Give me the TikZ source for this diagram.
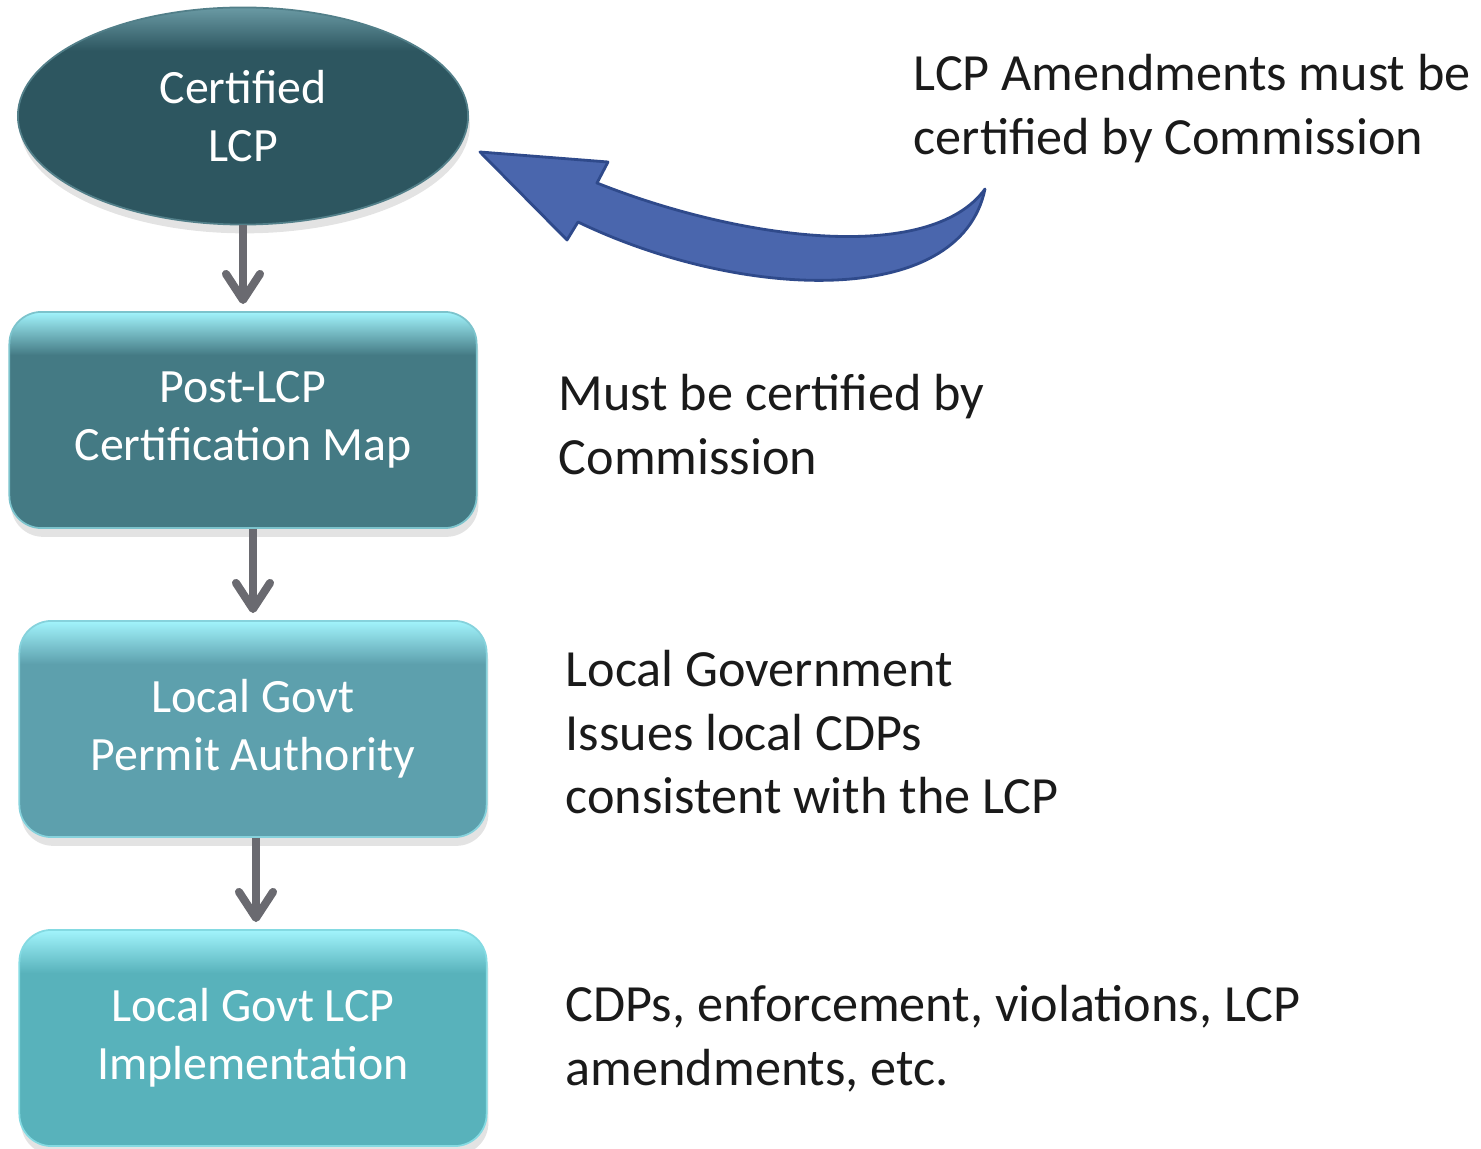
\documentclass[tikz,border=0pt]{standalone}
\usepackage{fontspec}
\setmainfont{Carlito}
\usetikzlibrary{arrows.meta,shapes.geometric,shadows}

\definecolor{ovaldark}{HTML}{2D5660}
\definecolor{ovaltop}{HTML}{6A9AA4}
\definecolor{mapteal}{HTML}{447A84}
\definecolor{permitteal}{HTML}{5DA0AD}
\definecolor{implteal}{HTML}{58B2BB}
\definecolor{boxtop}{HTML}{A2F4FC}
\definecolor{linkgray}{HTML}{6A6A70}
\definecolor{amendblue}{HTML}{4A66AD}
\definecolor{amendedge}{HTML}{2F4A8B}
\definecolor{notegray}{HTML}{1A1A1A}

\colorlet{glossbase}{mapteal}
\colorlet{glosstop}{boxtop}
\pgfdeclareverticalshading[glosstop,glossbase]{glossy}{100bp}{%
  color(0bp)=(glossbase); color(65bp)=(glossbase); color(75bp)=(glosstop); color(100bp)=(glosstop)}

\newcommand\boxtext{\fontsize{13.6}{16.5}\selectfont}
\newcommand\notetext{\fontsize{14.85}{18}\selectfont}

\tikzset{
  gloss/.style 2 args={/utils/exec={\colorlet{glossbase}{#1}\colorlet{glosstop}{#2}},
    shading=glossy, draw=#2!60!#1, line width=0.5pt,
    drop shadow={shadow xshift=0.5pt, shadow yshift=-2.5pt, opacity=0.22}},
  oval/.style={ellipse, minimum width=4.5cm, minimum height=2.17cm, inner sep=0pt,
    text=white, align=center, font=\boxtext},
  stagebox/.style={rectangle, rounded corners=0.32cm, minimum width=4.67cm,
    minimum height=2.16cm, inner sep=0pt, text=white, align=center, font=\boxtext},
  note/.style={anchor=north west, align=left, inner sep=0pt, text=notegray, font=\notetext},
  link/.style={draw=linkgray, line width=2.3pt,
    -{Straight Barb[length=2.6mm,width=3.4mm,round]}, shorten >=2pt}
}

\begin{document}
\begin{tikzpicture}[x=0.01cm,y=-0.01cm]
\useasboundingbox (0,0) rectangle (1481,1149);

% stages
\node[oval, gloss={ovaldark}{ovaltop}] (lcp) at (243,116) {Certified\\LCP};
\node[stagebox, gloss={mapteal}{boxtop}] (map) at (243,420) {Post-LCP\\Certification Map};
\node[stagebox, gloss={permitteal}{boxtop}] (permit) at (253,729) {Local Govt\\Permit Authority};
\node[stagebox, gloss={implteal}{boxtop}] (impl) at (253,1038) {Local Govt LCP\\Implementation};

\draw[link] (lcp.south) -- (map.north);
\draw[link] (map.south -| permit.north) -- (permit.north);
\draw[link] ([xshift=0.03cm]permit.south) -- ([xshift=0.03cm]impl.north);

% notes
\node[note] (amendnote) at (913,54) {LCP Amendments must be\\certified by Commission};
\node[note] (mapnote) at (558,374) {Must be certified by\\Commission};
\node[note] (permitnote) at (565,650) {Local Government\\Issues local CDPs\\consistent with the LCP};
\node[note] (implnote) at (565,985) {CDPs, enforcement, violations, LCP\\amendments, etc.};

% curved amendment arrow
\coordinate (amendtip) at (480,152);
\fill[amendblue, draw=amendedge, line width=0.8pt, line join=round]
  (amendtip) -- (608,162) -- (597,183)
  .. controls (740,240) and (930,265) .. (985,189)
  .. controls (960,310) and (740,300) .. (578,222)
  -- (567,240) -- cycle;
\end{tikzpicture}
\end{document}
